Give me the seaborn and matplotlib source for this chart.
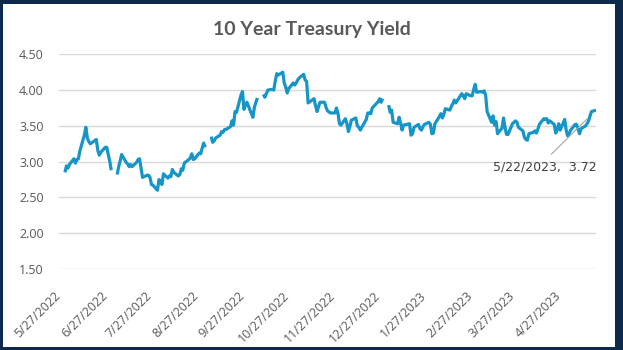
import numpy as np
import pandas as pd
import matplotlib
matplotlib.use("Agg")
import matplotlib.pyplot as plt
import seaborn as sns
from matplotlib.patches import Rectangle
from matplotlib.transforms import ScaledTranslation

# ---------------- data (10-year Treasury yield, business days) ----------------
nan = np.nan
first_date = "2022-05-31"
last_date = "2023-05-22"
axis_start = "2022-05-27"
# dates with no row in the source (line passes straight over them)
omitted_dates = ["2022-06-20", "2022-11-11", "2022-11-24", "2022-12-26",
                 "2023-01-16", "2023-02-20"]
# blank rows (nan) break the line
may_2022 = [2.85]
jun_2022 = [2.94, 2.91, 2.96, 3.04, 2.98, 3.03, 3.04, 3.15, 3.37, 3.48, 3.33,
            3.28, 3.25, 3.31, 3.16, 3.09, 3.13, 3.20, 3.20, 3.10, 3.01]
jul_2022 = [2.88, nan, 2.82, 2.93, 3.01, 3.10, 2.99, 2.97, 2.93, 2.96, 2.93,
            2.99, 3.03, 3.04, 2.91, 2.78, 2.81, 2.81, 2.78, 2.68, 2.67]
aug_2022 = [2.60, 2.75, 2.73, 2.68, 2.83, 2.77, 2.80, 2.79, 2.89, 2.85, 2.80,
            2.82, 2.90, 2.88, 2.98, 3.03, 3.05, 3.11, 3.03, 3.04, 3.12, 3.11, 3.19]
sep_2022 = [3.26, 3.20, nan, 3.35, 3.27, 3.29, 3.33, 3.37, 3.42, 3.41, 3.45,
            3.45, 3.49, 3.57, 3.51, 3.70, 3.69, 3.93, 3.98, 3.73, 3.79, 3.83]
oct_2022 = [3.67, 3.62, 3.76, 3.83, 3.89, nan, 3.94, 3.90, 3.95, 4.00, 4.01,
            4.00, 4.13, 4.23, 4.21, 4.25, 4.10, 4.04, 3.96, 4.02, 4.10]
nov_2022 = [4.07, 4.10, 4.14, 4.17, 4.22, 4.14, 4.12, 3.82, 3.88, 3.78, 3.70,
            3.77, 3.83, 3.83, 3.76, 3.71, 3.68, 3.68, 3.75, 3.68]
dec_2022 = [3.53, 3.51, 3.60, 3.53, 3.42, 3.49, 3.58, 3.61, 3.50, 3.48, 3.44,
            3.48, 3.59, 3.68, 3.68, 3.67, 3.75, 3.84, 3.88, 3.83, 3.88]
jan_2023 = [nan, 3.79, 3.69, 3.72, 3.55, 3.53, 3.62, 3.54, 3.44, 3.51, 3.53,
            3.37, 3.39, 3.48, 3.52, 3.46, 3.44, 3.49, 3.52, 3.55, 3.52]
feb_2023 = [3.39, 3.40, 3.53, 3.63, 3.67, 3.61, 3.66, 3.74, 3.72, 3.77, 3.81,
            3.86, 3.82, 3.95, 3.92, 3.88, 3.95, 3.92, 3.92]
mar_2023 = [4.01, 4.08, 3.97, 3.98, 3.97, 3.99, 3.93, 3.70, 3.55, 3.64, 3.51,
            3.56, 3.39, 3.47, 3.61, 3.48, 3.38, 3.38, 3.53, 3.55, 3.57, 3.55, 3.48]
apr_2023 = [3.43, 3.34, 3.31, 3.30, 3.39, 3.41, 3.43, 3.40, 3.45, 3.52, 3.60,
            3.59, 3.60, 3.54, 3.57, 3.52, 3.40, 3.45, 3.53, 3.44]
may_2023 = [3.59, 3.44, 3.36, 3.39, 3.44, 3.52, 3.52, 3.45, 3.39, 3.46, 3.50,
            3.53, 3.57, 3.64, 3.70, 3.72]

tick_labels = ["5/27/2022", "6/27/2022", "7/27/2022", "8/27/2022", "9/27/2022",
               "10/27/2022", "11/27/2022", "12/27/2022", "1/27/2023", "2/27/2023",
               "3/27/2023", "4/27/2023"]
y_ticks = [1.50, 2.00, 2.50, 3.00, 3.50, 4.00, 4.50]
title = "10 Year Treasury Yield"
label_text = "5/22/2023,  3.72"

# ---------------- build table ----------------
values = (may_2022 + jun_2022 + jul_2022 + aug_2022 + sep_2022 + oct_2022 +
          nov_2022 + dec_2022 + jan_2023 + feb_2023 + mar_2023 + apr_2023 + may_2023)
dates = pd.bdate_range(first_date, last_date, freq="C", holidays=omitted_dates)
assert len(dates) == len(values), (len(dates), len(values))
df = pd.DataFrame({"date": dates, "yield": values})
df["segment"] = df["yield"].isna().cumsum()
df = df.dropna()

# ---------------- figure ----------------
sns.set_theme(style="white")
plt.rcParams["font.family"] = ["Open Sans", "DejaVu Sans"]

W, H = 623, 350
fig = plt.figure(figsize=(W / 100, H / 100), dpi=100, facecolor="#0D2A4C")
fig.patches.append(Rectangle((3 / W, 3.5 / H), (615 - 3) / W, (350 - 3.5 - 4) / H,
                             transform=fig.transFigure, facecolor="white",
                             edgecolor="none", zorder=-10))

ax = fig.add_axes([59 / W, 1 - 269 / H, 537 / W, (269 - 54.3) / H])
ax.set_facecolor("none")

sns.lineplot(data=df, x="date", y="yield", units="segment", estimator=None,
             color="#1696C8", linewidth=2.3, ax=ax, legend=False)
for ln in ax.lines:
    ln.set_solid_joinstyle("round")
    ln.set_solid_capstyle("butt")

ax.set_ylim(1.5, 4.5)
ax.set_yticks(y_ticks)
ax.set_yticklabels([f"{v:.2f}" for v in y_ticks])
ax.set_xlim(pd.Timestamp(axis_start), pd.Timestamp(last_date))
ax.set_xticks(pd.to_datetime(tick_labels, format="%m/%d/%Y"))
ax.set_xticklabels(tick_labels, rotation=45, ha="right", va="center",
                   rotation_mode="anchor")
shift = ScaledTranslation(3 / 100, 2 / 100, fig.dpi_scale_trans)
for lab in ax.get_xticklabels():
    lab.set_transform(lab.get_transform() + shift)
ax.yaxis.grid(True, color="#D9D9D9", linewidth=1)
ax.xaxis.grid(False)
for s in ax.spines.values():
    s.set_visible(False)
ax.tick_params(axis="y", length=0, pad=11, labelsize=9, labelcolor="#595959")
ax.tick_params(axis="x", length=0, pad=18, labelsize=9, labelcolor="#595959")
ax.set_xlabel("")
ax.set_ylabel("")

# data label on last point
last = df.iloc[-1]
ax.annotate(label_text, xy=(last["date"], last["yield"]), xycoords="data",
            xytext=(545 / W, 1 - 167 / H), textcoords="figure fraction",
            ha="center", va="center", fontsize=9, color="#404040",
            family=["DejaVu Sans"],
            arrowprops=dict(arrowstyle="-", color="#A6A6A6", lw=0.8,
                            shrinkA=3, shrinkB=9, relpos=(0.5, 1.0)))

fig.text(0.5, 1 - 29 / H, title, ha="center", va="center", fontsize=14,
         fontweight="bold", color="#595959", family=["Lato", "DejaVu Sans"])

fig.savefig("out.png", dpi=100, facecolor=fig.get_facecolor())
